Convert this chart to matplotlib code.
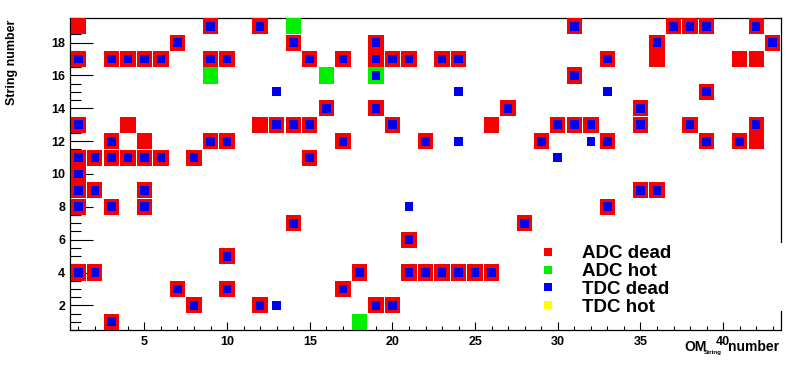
import numpy as np
import matplotlib.pyplot as plt
from matplotlib import font_manager
from matplotlib.patches import Rectangle
from matplotlib.ticker import MultipleLocator

# flagged channels: string number -> list of OM numbers
adc_dead = {
    19: [1, 9, 12, 31, 37, 38, 39, 42],
    18: [7, 14, 19, 36, 43],
    17: [1, 3, 4, 5, 6, 9, 10, 15, 17, 19, 20, 21, 23, 24, 33, 36, 41, 42],
    16: [31],
    15: [39],
    14: [16, 19, 27, 35],
    13: [1, 4, 12, 13, 14, 15, 20, 26, 30, 31, 32, 35, 38, 42],
    12: [3, 5, 9, 10, 17, 22, 29, 33, 39, 41, 42],
    11: [1, 2, 3, 4, 5, 6, 8, 15],
    10: [1],
    9: [1, 2, 5, 35, 36],
    8: [1, 3, 5, 33],
    7: [14, 28],
    6: [21],
    5: [10],
    4: [1, 2, 18, 21, 22, 23, 24, 25, 26],
    3: [7, 10, 17],
    2: [8, 12, 19, 20],
    1: [3],
}
adc_hot = {19: [14], 16: [9, 16, 19], 1: [18]}
tdc_dead = {
    19: [9, 12, 31, 37, 38, 39, 42],
    18: [7, 14, 19, 36, 43],
    17: [1, 3, 4, 5, 6, 9, 10, 15, 17, 19, 20, 21, 23, 24, 33],
    16: [19, 31],
    15: [13, 24, 33, 39],
    14: [16, 19, 27, 35],
    13: [1, 13, 14, 15, 20, 30, 31, 32, 35, 38, 42],
    12: [3, 9, 10, 17, 22, 24, 29, 32, 33, 39, 41],
    11: [1, 2, 3, 4, 5, 6, 8, 15, 30],
    10: [1],
    9: [1, 2, 5, 35, 36],
    8: [1, 3, 5, 21, 33],
    7: [14, 28],
    6: [21],
    5: [10],
    4: [1, 2, 18, 21, 22, 23, 24, 25, 26],
    3: [7, 10, 17],
    2: [8, 12, 13, 19, 20],
    1: [3],
}
tdc_hot = {}

legend_labels = ['ADC dead', 'ADC hot', 'TDC dead', 'TDC hot']
legend_colors = ['#ff0000', '#00f000', '#0000ff', '#ffff00']


def cells(d):
    om = [o for s, oms in d.items() for o in oms]
    st = [s for s, oms in d.items() for o in oms]
    return np.array(om, float), np.array(st, float)


names = {f.name for f in font_manager.fontManager.ttflist}
if 'Liberation Sans Narrow' in names:
    tick_font, tick_size = 'Liberation Sans Narrow', 10
else:
    tick_font, tick_size = 'Liberation Sans', 9
plt.rcParams['font.family'] = ['Liberation Sans', 'DejaVu Sans']

W, H = 793, 365
fig = plt.figure(figsize=(W / 100, H / 100), dpi=100)
ax = fig.add_axes([70 / W, 1 - 330 / H, 711 / W, 312 / H])
ax.set_xlim(0.5, 43.5)
ax.set_ylim(0.5, 19.5)
ax.set_axisbelow(True)

# boxes
x, y = cells(adc_dead)
ax.bar(x, 0.98, width=0.93, bottom=y - 0.49, color='#f80000', lw=0, zorder=3)
x, y = cells(adc_hot)
ax.bar(x, 0.98, width=0.93, bottom=y - 0.49, color='#00f000', lw=0, zorder=3)
if tdc_hot:
    x, y = cells(tdc_hot)
    ax.bar(x, 0.54, width=0.52, bottom=y - 0.27, color='#ffff00', lw=0, zorder=4)
x, y = cells(tdc_dead)
ax.bar(x, 0.54, width=0.52, bottom=y - 0.27, color='#0000f0', lw=0, zorder=4)

# ROOT-like axes
ax.xaxis.set_major_locator(MultipleLocator(5))
ax.xaxis.set_minor_locator(MultipleLocator(1))
ax.yaxis.set_major_locator(MultipleLocator(2))
ax.yaxis.set_minor_locator(MultipleLocator(0.5))
ax.tick_params(axis='x', which='major', direction='in', length=6, width=0.8, pad=4.5)
ax.tick_params(axis='x', which='minor', direction='in', length=3, width=0.8)
ax.tick_params(axis='y', which='major', direction='in', length=16.5, width=0.8, pad=3.5)
ax.tick_params(axis='y', which='minor', direction='in', length=8, width=0.8)
ax.set_xticks([t for t in range(5, 45, 5)])
ax.set_yticks([t for t in range(2, 20, 2)])
ax.set_xticklabels([str(t) for t in range(5, 45, 5)], family=tick_font,
                   size=tick_size, weight='bold')
ax.set_yticklabels([str(t) for t in range(2, 20, 2)], family=tick_font,
                   size=tick_size, weight='bold')
for sp in ax.spines.values():
    sp.set_linewidth(0.9)

# axis titles
fig.text(12.5 / W, 1 - 20 / H, 'String number', rotation=90, ha='center',
         va='top', fontsize=9, fontweight='bold')
fig.text(684 / W, 1 - 351 / H, 'OM', ha='left', va='baseline', fontsize=10,
         fontweight='bold')
fig.text(704 / W, 1 - 354 / H, 'String', ha='left', va='baseline', fontsize=4.5,
         fontweight='bold')
fig.text(779 / W, 1 - 351 / H, 'number', ha='right', va='baseline', fontsize=10,
         fontweight='bold')

# legend box (white, no border, hides the right frame)
fig.add_artist(Rectangle((537 / W, 1 - 311 / H), 253 / W, 68 / H,
                         transform=fig.transFigure, facecolor='white',
                         edgecolor='none', zorder=5))
for i, (lab, col) in enumerate(zip(legend_labels, legend_colors)):
    yc = 252 + i * 17.7
    fig.add_artist(Rectangle(((548 - 4) / W, 1 - (yc + 4) / H), 8 / W, 8 / H,
                             transform=fig.transFigure, facecolor=col,
                             edgecolor='none', zorder=6))
    fig.text(582 / W, 1 - yc / H, lab, ha='left', va='center_baseline',
             fontsize=13.5, fontweight='bold', zorder=7)

fig.savefig('out.png', dpi=100)
